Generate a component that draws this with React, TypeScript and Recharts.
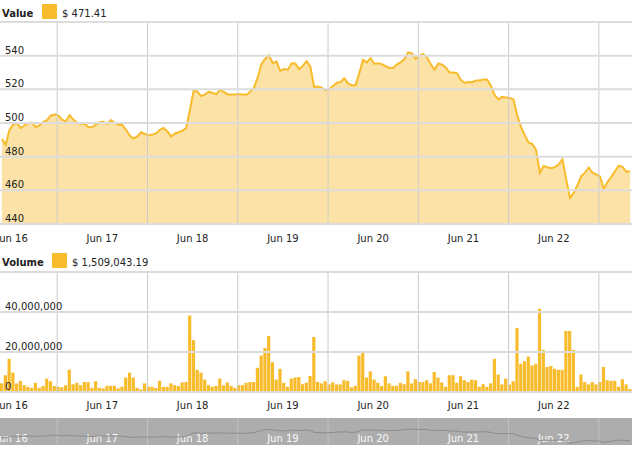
import React from 'react';
import { AreaChart, Area, BarChart, Bar, LineChart, Line, XAxis, YAxis, ReferenceLine } from 'recharts';

// hourly samples, first one a little before Jun 16 00:00
const START_HOUR = -2.7;
const DAY_LABELS = ['Jun 16', 'Jun 17', 'Jun 18', 'Jun 19', 'Jun 20', 'Jun 21', 'Jun 22'];

const PRICE = [
  490.5, 487, 495.8, 499.3, 500, 497, 498.5, 500, 500.3, 497.5, 498.5, 500.5,
  501.7, 504.5, 505, 504.5, 502, 501, 504.6, 502, 500.2, 499.5, 499.5, 497.5,
  497.6, 499, 500.5, 500.7, 499.5, 501.7, 500, 499, 498.8, 496, 492.5, 490.8,
  492, 494.5, 493.5, 492.8, 493.2, 493.8, 496, 497, 495, 492, 493.8, 494.5,
  495.5, 497, 508, 519.5, 518.5, 516, 517, 518.5, 518, 517, 519.7, 518.5,
  517, 517, 517, 517.2, 517, 516.8, 518.5, 521, 527, 535, 538.2, 540.3,
  535.5, 536.5, 531, 532, 531.7, 535.5, 535.3, 532, 534, 536.7, 533.5, 521.5,
  521.7, 521, 519.3, 520, 522, 523.8, 524.3, 526.5, 523.5, 522.5, 522.5, 529.5,
  537.5, 536, 538.5, 535.2, 535.5, 535, 533.8, 532.7, 532.7, 534.8, 536, 538,
  542, 541.4, 538.2, 540, 541, 539, 535, 531.7, 535.4, 534.6, 533, 530,
  530, 529.5, 525.5, 523.9, 524.3, 524.2, 525.2, 525.3, 525.8, 525.8, 522, 516.5,
  514, 515.5, 515.2, 514.8, 514, 504.5, 497.5, 492.8, 488.5, 487.5, 484, 470.5,
  474.5, 473.7, 473.2, 473.8, 475.3, 478.5, 466.8, 455.5, 458.5, 463, 468.5, 470.5,
  473.5, 470.5, 469.5, 468.3, 461, 464.9, 468, 471.5, 474.7, 474, 471, 471.41,
];

// volume in millions of dollars
const VOLUME_M = [
  4.3, 8.4, 16.6, 9.7, 4.3, 5.6, 3.4, 2.6, 2.1, 4.6, 2.1, 3.0,
  6.7, 5.4, 3.0, 2.6, 2.3, 3.4, 11.1, 3.9, 4.6, 3.4, 5.0, 5.0,
  2.1, 5.4, 2.1, 1.8, 3.1, 3.1, 3.1, 1.8, 2.6, 7.2, 9.7, 7.2,
  2.1, 1.3, 4.3, 2.6, 2.6, 2.0, 5.6, 2.6, 2.6, 4.3, 3.4, 3.0,
  4.8, 5.0, 38.2, 25.9, 11.1, 9.7, 6.2, 3.4, 2.6, 3.1, 6.7, 3.4,
  4.8, 3.1, 2.1, 3.4, 3.4, 4.6, 5.0, 5.0, 12.1, 18.2, 22.0, 28.0,
  14.9, 6.2, 11.6, 4.6, 2.6, 6.7, 7.2, 7.5, 3.9, 4.6, 8.0, 27.5,
  5.0, 4.3, 5.4, 3.8, 4.8, 3.8, 3.8, 5.9, 5.6, 2.3, 3.1, 18.2,
  19.8, 7.2, 10.3, 6.2, 4.6, 3.0, 7.9, 4.3, 3.1, 3.1, 4.6, 3.9,
  10.3, 4.3, 6.4, 5.0, 5.0, 5.9, 4.3, 10.0, 7.2, 4.8, 2.6, 8.4,
  8.4, 4.6, 7.9, 5.9, 5.0, 6.2, 5.9, 2.6, 3.9, 2.6, 4.3, 16.6,
  8.7, 3.8, 6.7, 3.8, 5.4, 32.0, 14.1, 15.4, 17.7, 13.3, 14.1, 41.6,
  21.0, 12.5, 13.0, 11.6, 11.1, 11.1, 30.5, 30.5, 21.0, 2.6, 8.7, 5.0,
  3.8, 5.0, 3.8, 5.0, 12.5, 5.9, 5.6, 5.6, 2.6, 6.4, 3.8, 1.50904319,
];

const PRICE_TICKS = [440, 460, 480, 500, 520, 540, 560];
const VOLUME_TICKS = [0, 20000000, 40000000, 60000000];

const W = 632;
const FONT = '"DejaVu Sans", Verdana, sans-serif';
const GOLD = '#f8bb2c';

const data = PRICE.map((p, i) => ({
  t: START_HOUR + i,
  price: p,
  volume: VOLUME_M[i] * 1e6,
}));

const X_DOMAIN = [START_HOUR - 0.5, START_HOUR + PRICE.length - 0.5];
const MIDNIGHTS = DAY_LABELS.map((_, k) => k * 24);
const NOONS = DAY_LABELS.map((_, k) => k * 24 + 12);

const lastPrice = PRICE[PRICE.length - 1];
const lastVolume = VOLUME_M[VOLUME_M.length - 1] * 1e6;
const money = (v: number) =>
  '$ ' + v.toLocaleString('en-US', { minimumFractionDigits: 2, maximumFractionDigits: 2 });

const dayTick = (dy: number, color: string) => (props: any) => {
  const { x, y, payload } = props;
  return (
    <text x={x} y={y + dy} textAnchor="middle" fontSize={10} fontFamily={FONT} fill={color}>
      {DAY_LABELS[Math.round(payload.value / 24)]}
    </text>
  );
};

const LegendRow = ({ label, value, swatchX }: { label: string; value: string; swatchX: number }) => (
  <svg width={W} height={22} style={{ display: 'block' }}>
    <text x={2} y={17} fontSize={10} fontWeight="bold" fontFamily={FONT} fill="#222">{label}</text>
    <rect x={swatchX} y={4} width={15} height={15} fill={GOLD} />
    <text x={swatchX + 20} y={17} fontSize={10} fontFamily={FONT} fill="#222">{value}</text>
  </svg>
);

// horizontal grid lines, labelled at the left inside the plot (top one unlabelled)
const hLines = (ticks: number[], fmt: (v: number) => string) =>
  ticks.map((v, i) => (
    <ReferenceLine
      key={`h${v}`}
      y={v}
      stroke="#dcdcdc"
      strokeWidth={2}
      label={
        i === ticks.length - 1
          ? undefined
          : (p: any) => (
              <text x={p.viewBox.x + 5} y={p.viewBox.y - 2} fontSize={10} fontFamily={FONT} fill="#222">
                {fmt(v)}
              </text>
            )
      }
    />
  ));

const vLines = (color: string) =>
  NOONS.map((t) => <ReferenceLine key={`v${t}`} x={t} stroke={color} strokeWidth={1} />);

export default function App() {
  return (
    <div style={{ position: 'absolute', left: 0, top: 0, width: W, height: 449, background: '#fff' }}>
      <div style={{ position: 'absolute', left: 0, top: 0 }}>
        <AreaChart width={W} height={245} data={data} margin={{ top: 22, right: 0, bottom: 0, left: 0 }}>
          <XAxis
            dataKey="t"
            type="number"
            domain={X_DOMAIN}
            ticks={MIDNIGHTS}
            interval={0}
            height={21}
            tickLine={false}
            axisLine={false}
            tickSize={0}
            tickMargin={0}
            allowDataOverflow
            tick={dayTick(18, '#222')}
          />
          <YAxis hide type="number" domain={[440, 560]} allowDataOverflow />
          {vLines('#cbcbcb')}
          {hLines(PRICE_TICKS, (v) => String(v))}
          <Area
            type="linear"
            dataKey="price"
            stroke={GOLD}
            strokeWidth={2}
            fill={GOLD}
            fillOpacity={0.42}
            dot={false}
            activeDot={false}
            isAnimationActive={false}
          />
        </AreaChart>
      </div>

      <div style={{ position: 'absolute', left: 0, top: 245 }}>
        <BarChart width={W} height={168} data={data} margin={{ top: 27, right: 0, bottom: 0, left: 0 }} barSize={3.2}>
          <XAxis
            dataKey="t"
            type="number"
            domain={X_DOMAIN}
            ticks={MIDNIGHTS}
            interval={0}
            height={21}
            tickLine={false}
            axisLine={false}
            tickSize={0}
            tickMargin={0}
            allowDataOverflow
            tick={dayTick(17, '#222')}
          />
          <YAxis hide type="number" domain={[0, 60000000]} allowDataOverflow />
          {vLines('#cbcbcb')}
          {hLines(VOLUME_TICKS, (v) => v.toLocaleString('en-US'))}
          <Bar dataKey="volume" fill={GOLD} isAnimationActive={false} />
        </BarChart>
      </div>

      <div style={{ position: 'absolute', left: 0, top: 418, width: W, height: 27, background: '#adadad' }}>
        <LineChart width={W} height={27} data={data} margin={{ top: 0, right: 0, bottom: 0, left: 0 }}>
          <XAxis hide dataKey="t" type="number" domain={X_DOMAIN} allowDataOverflow />
          <YAxis hide type="number" domain={[445, 610]} />
          {vLines('#c2c2c2')}
          {MIDNIGHTS.map((m, k) => (
            <ReferenceLine
              key={`m${m}`}
              x={m}
              stroke="none"
              label={(p: any) => (
                <text
                  x={p.viewBox.x}
                  y={p.viewBox.y + 24}
                  textAnchor="middle"
                  fontSize={10}
                  fontFamily={FONT}
                  fill="#fafafa"
                >
                  {DAY_LABELS[k]}
                </text>
              )}
            />
          ))}
          <Line
            type="linear"
            dataKey="price"
            stroke="#8c8c8c"
            strokeWidth={1}
            dot={false}
            activeDot={false}
            isAnimationActive={false}
          />
        </LineChart>
      </div>

      <div style={{ position: 'absolute', left: 0, top: 0 }}>
        <LegendRow label="Value" value={money(lastPrice)} swatchX={42} />
      </div>
      <div style={{ position: 'absolute', left: 0, top: 249 }}>
        <LegendRow label="Volume" value={money(lastVolume)} swatchX={52} />
      </div>
    </div>
  );
}
